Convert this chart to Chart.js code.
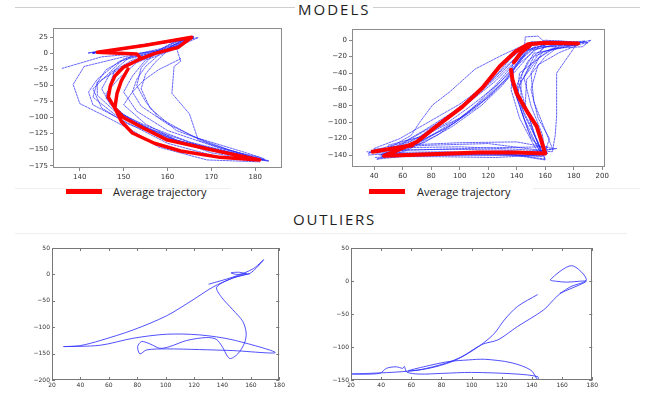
<!DOCTYPE html>
<html>
<head>
<meta charset="utf-8">
<script src="https://cdn.jsdelivr.net/npm/chart.js@4"></script>
<style>
  body { margin: 0; width: 649px; height: 394px; position: relative; overflow: hidden; background: #fff; font-family: "Open Sans", sans-serif; }
  canvas { position: absolute; }
  .rule { position: absolute; height: 1px; background: #cfcfcf; }
  .faint { background: #efefef; }
  .title { position: absolute; font-size: 15px; line-height: 15px; letter-spacing: 2px; color: #1e1e1e; background: #fff; padding: 0 3px; }
  .swatch { position: absolute; width: 36px; height: 5px; background: #ff0000; }
  .legend { position: absolute; font-size: 11px; line-height: 11px; color: #222; }
</style>
</head>
<body>
<div class="rule" style="left:15px; top:7px; width:625px;"></div>
<div class="title" style="left:295px; top:2px;">MODELS</div>
<div class="rule faint" style="left:15px; top:188px; width:215px;"></div>
<div class="rule faint" style="left:533px; top:188px; width:107px;"></div>
<div class="title" style="left:290px; top:212px; letter-spacing:1.8px;">OUTLIERS</div>
<div class="rule faint" style="left:15px; top:233px; width:612px;"></div>

<canvas id="tl"></canvas>
<canvas id="tr"></canvas>
<canvas id="bl"></canvas>
<canvas id="br"></canvas>

<div class="swatch" style="left:66px; top:189px;"></div>
<div class="legend" style="left:113px; top:186px;">Average trajectory</div>
<div class="swatch" style="left:369px; top:189px;"></div>
<div class="legend" style="left:417px; top:186px;">Average trajectory</div>

<script>
// ---- top left model: tick labels, average trajectory, individual runs
const tlXTicks = [140, 150, 160, 170, 180];
const tlYTicks = [25, 0, -25, -50, -75, -100, -125, -150, -175];
const tlAvgX = [154, 153, 144, 155, 165.5, 162.5, 157, 153.8, 150, 148, 147, 146.5, 148, 150, 155, 160, 170, 181, 172, 163, 157, 152, 149.5, 148, 148.5, 149.5, 151];
const tlAvgY = [-8, -0.5, 2, 13, 25.5, 10, 0, -8.4, -21, -35, -50, -68, -85, -100, -118, -135, -150, -166, -162, -152, -140, -124, -106, -85, -62, -42, -24];
const tlRunsX = [
  [143, 164, 160, 150, 141, 138.5, 140, 145, 152, 158, 169, 181],
  [143, 165, 162, 163, 161.5, 161, 165, 167, 178, 183],
  [136, 145, 153, 160, 166, 162, 155, 150, 144, 143, 148, 158, 170, 180],
  [143, 163, 158, 152, 147, 145, 147, 152, 162, 175, 182],
  [144, 165, 161, 155, 152, 150, 153, 160, 172, 181],
  [145, 166, 163, 157, 154, 153, 155, 158, 166, 178, 182],
  [142, 162, 157, 149, 144, 142, 143, 150, 160, 172, 180],
  [144, 167, 164, 160, 157, 155, 154, 156, 162, 174, 183],
  [143, 166, 160, 152, 148, 147, 146, 150, 156, 168, 179],
  [144, 164, 159, 150, 146, 143, 145, 151, 160, 176, 181],
  [163, 158, 154.5, 152, 150, 155, 162, 172, 182],
  [142, 163, 158, 151, 146, 144, 144, 148, 155, 165, 178, 182],
  [145, 165, 161, 158, 155, 153, 152, 154, 160, 170, 180],
  [143, 164, 159, 153, 149, 146, 148, 154, 163, 177, 183]
];
const tlRunsY = [
  [1, 24, 8, -5, -20, -48, -78, -95, -120, -146, -166, -169],
  [1, 26, 10, -12, -20, -62, -94, -135, -160, -167],
  [-23, -5, 0, 6, 25, 12, -5, -20, -45, -68, -95, -125, -155, -166],
  [1, 22, 3, -10, -30, -55, -80, -105, -135, -155, -165],
  [0, 25, 5, -10, -35, -60, -90, -120, -148, -162],
  [2, 27, 14, 0, -22, -50, -75, -100, -130, -155, -164],
  [1, 20, 2, -12, -40, -60, -80, -105, -140, -162, -168],
  [1, 25, 16, 5, -15, -32, -55, -85, -120, -150, -168],
  [0, 24, 10, -2, -25, -45, -70, -95, -118, -145, -163],
  [2, 23, 4, -8, -35, -55, -85, -110, -132, -158, -166],
  [-8, -25, -42, -60, -80, -110, -135, -155, -166],
  [1, 23, 5, -6, -25, -45, -65, -90, -112, -138, -160, -167],
  [0, 26, 12, -2, -20, -40, -60, -82, -110, -142, -163],
  [2, 21, 3, -14, -38, -62, -88, -112, -140, -160, -168]
];

// ---- top right model
const trXTicks = [40, 60, 80, 100, 120, 140, 160, 180, 200];
const trYTicks = [0, -20, -40, -60, -80, -100, -120, -140];
const trAvgX = [183, 160, 148, 139, 128, 116, 102, 83, 70, 58, 47, 80, 113, 140, 160, 157, 154, 148, 140, 137, 136];
const trAvgY = [-4, -3, -5, -14, -32, -58, -81, -106, -124, -133, -141, -139, -137, -137, -138, -121, -105, -89, -65, -48, -36];
const trSpurX = [39, 67];
const trSpurY = [-136, -128];
const trHookX = [138, 143, 149];
const trHookY = [-27, -15, -7];
const trRunsX = [
  [45, 70, 90, 110, 128, 143, 160, 185, 192, 186, 165, 152, 145, 150, 158, 160, 130, 90, 50, 35],
  [38, 60, 75, 95, 115, 135, 150, 175, 188, 180, 160, 148, 140, 145, 155, 158, 120, 80, 45],
  [50, 66, 72, 81, 93, 111, 130, 145, 170, 182, 168, 168, 167, 165, 140, 100, 60, 40],
  [42, 62, 85, 105, 125, 140, 148, 160, 178, 160, 146, 138, 136, 142, 152, 156, 110, 70, 40],
  [36, 55, 80, 100, 120, 138, 152, 165, 183, 170, 155, 150, 155, 163, 160, 120, 80, 50],
  [48, 75, 95, 115, 130, 145, 146, 155, 160, 180, 163, 142, 140, 150, 158, 125, 85, 45],
  [40, 58, 78, 100, 122, 136, 150, 170, 190, 175, 158, 150, 152, 160, 165, 140, 100, 60],
  [44, 66, 90, 112, 132, 145, 152, 171, 160, 147, 146, 153, 160, 130, 90, 50, 38],
  [50, 72, 92, 108, 126, 142, 156, 168, 155, 143, 143, 150, 162, 130, 95, 55],
  [36, 52, 75, 97, 118, 134, 147, 158, 175, 150, 137, 136, 145, 156, 168, 150, 100, 60],
  [42, 60, 82, 105, 125, 141, 150, 165, 180, 170, 152, 144, 140, 148, 157, 162, 125, 85, 45, 36],
  [46, 64, 84, 100, 118, 130, 140, 152, 160, 150, 142, 146, 152, 160, 140, 100, 70, 42]
];
const trRunsY = [
  [-140, -120, -95, -70, -42, -15, -5, -3, 0, -8, -10, -20, -45, -80, -115, -140, -140, -139, -138, -136],
  [-135, -125, -110, -88, -60, -28, -5, -3, -1, -6, -8, -25, -55, -90, -125, -142, -138, -137, -140],
  [-132, -116, -100, -79, -63, -35, -18, -6, -4, -5, -40, -92, -116, -136, -133, -130, -131, -133],
  [-145, -135, -115, -90, -55, -25, -8, 0, -2, -6, -12, -35, -60, -95, -128, -140, -140, -141, -143],
  [-138, -130, -112, -95, -70, -40, -12, -6, -6, -15, -30, -60, -95, -120, -135, -126, -128, -130],
  [-135, -125, -105, -80, -55, -20, 4, 5, -3, -4, -12, -40, -70, -105, -140, -143, -142, -142],
  [-132, -120, -100, -78, -50, -22, -2, -1, -3, -8, -14, -40, -75, -110, -132, -124, -125, -128],
  [-140, -128, -108, -82, -48, -18, -4, -6, -20, -48, -78, -118, -146, -138, -136, -137, -134],
  [-128, -118, -100, -80, -55, -28, -8, -8, -22, -50, -85, -120, -138, -134, -133, -134],
  [-140, -138, -122, -100, -72, -45, -14, -2, -3, -12, -30, -50, -95, -135, -132, -137, -138, -139],
  [-138, -126, -104, -78, -50, -22, -6, -4, -6, -10, -16, -40, -70, -110, -138, -130, -131, -133, -135, -137],
  [-142, -132, -112, -95, -70, -48, -28, -10, -6, -30, -55, -80, -112, -145, -140, -140, -140, -145]
];

// ---- bottom left outlier
const blXTicks = [20, 40, 60, 80, 100, 120, 140, 160, 180];
const blYTicks = [50, 0, -50, -100, -150, -200];
const blPathX = [130.5, 147.3, 161.3, 169, 159, 152, 146, 150, 157, 147, 136, 139, 147.3, 154.3, 156.7, 155.5, 150.8, 145, 139.8, 135.6, 128.6, 114.6, 102.9, 95.9, 88.9, 83.1, 80.3, 81.9, 86.6, 100.6, 124, 147.3, 177.2, 147.3, 124, 100.6, 77.2, 53.9, 28.2, 39.9, 53.9, 77.2, 100.6, 119.3, 133.3, 147.3, 159];
const blPathY = [-18.4, -5.1, 10.1, 27.8, 1.3, 4, 3, 0, 1, -7, -24, -42, -67, -89, -111, -130, -150.6, -159, -136.7, -122.8, -119.6, -125.3, -136.7, -139.9, -131.6, -127.2, -136.7, -150.6, -143, -141.1, -142.4, -144.3, -148.1, -124, -114.6, -113.3, -120.9, -134.2, -136.7, -134.8, -125.3, -105.1, -78.5, -48.1, -24, -7, 1.3];

// ---- bottom right outlier
const brXTicks = [20, 40, 60, 80, 100, 120, 140, 160, 180];
const brYTicks = [50, 0, -50, -100, -150];
const brPathX = [143.5, 130.4, 121.7, 115.2, 107.6, 97.8, 87, 71.7, 54.3, 32.6, 20.7, 39, 43.5, 50, 54.3, 55.4, 57, 65, 80, 100, 130, 143.9, 143.9, 139.1, 126.1, 108.7, 97.8, 85, 72, 58, 65.2, 82.6, 93.5, 107, 117.4, 130.4, 147.8, 156.5, 165.2, 176.1, 166.3, 152.2, 156.5, 163, 176, 174.3, 158.7];
const brPathY = [-20.9, -38.6, -58.9, -79.1, -94.3, -109.5, -122.2, -132.3, -137.3, -139.9, -140.9, -140, -132.3, -130, -132.3, -129.5, -138, -141, -140, -138.5, -141, -145, -150, -134.8, -123.7, -118.6, -119.6, -122, -128, -136, -134.8, -124.7, -114.6, -96, -89.2, -69, -43.7, -23.4, -9.2, 1.9, 23.2, 1.9, -0.5, -1.7, 0, -3, -18.4];

const minus = v => (v < 0 ? '\u2212' + Math.abs(v) : String(v));

function lineSet(xs, ys, color, width, dash, tension) {
  return {
    data: xs.map((x, i) => ({ x: x, y: ys[i] })),
    showLine: true,
    borderColor: color,
    borderWidth: width,
    borderDash: dash,
    borderJoinStyle: 'round',
    borderCapStyle: 'round',
    pointRadius: 0,
    tension: tension,
    fill: false
  };
}

const blueDash = 'rgba(30, 30, 255, 0.68)';
const outlierBlue = 'rgba(50, 50, 255, 0.85)';

// box round the plot, plus inward ticks for the old style plots
const frame = {
  id: 'frame',
  afterDatasetsDraw(chart, args, opts) {
    const a = chart.chartArea, g = chart.ctx;
    g.save();
    g.strokeStyle = opts.color || '#8c8c8c';
    g.lineWidth = 1;
    g.strokeRect(Math.round(a.left) + 0.5, Math.round(a.top) + 0.5, Math.round(a.right - a.left) - 1, Math.round(a.bottom - a.top) - 1);
    if (opts.inward) {
      g.beginPath();
      chart.scales.x.ticks.forEach(t => {
        const px = Math.round(chart.scales.x.getPixelForValue(t.value)) + 0.5;
        g.moveTo(px, a.bottom); g.lineTo(px, a.bottom - 3);
        g.moveTo(px, a.top); g.lineTo(px, a.top + 3);
      });
      chart.scales.y.ticks.forEach(t => {
        const py = Math.round(chart.scales.y.getPixelForValue(t.value)) + 0.5;
        g.moveTo(a.left, py); g.lineTo(a.left + 3, py);
        g.moveTo(a.right, py); g.lineTo(a.right - 3, py);
      });
      g.stroke();
    }
    g.restore();
  }
};

function panel(id, area, xr, yr, xt, yt, sets, opt) {
  const cv = document.getElementById(id);
  cv.width = area.R - area.L + opt.yw + 4;
  cv.height = area.B - area.T + 6 + opt.xh;
  cv.style.left = (area.L - opt.yw) + 'px';
  cv.style.top = (area.T - 6) + 'px';
  const tickFont = { family: 'DejaVu Sans', size: opt.font };
  const axis = (r, t, fitKey, fitVal) => ({
    type: 'linear',
    min: r[0],
    max: r[1],
    afterBuildTicks: s => { s.ticks = t.map(v => ({ value: v })); },
    afterFit: s => { s[fitKey] = fitVal; },
    border: { display: false },
    grid: { drawOnChartArea: false, drawTicks: opt.tick > 0, tickLength: opt.tick, color: '#888' },
    ticks: { font: tickFont, color: '#333', padding: opt.pad, autoSkip: false, maxRotation: 0, callback: minus }
  });
  new Chart(cv, {
    type: 'scatter',
    data: { datasets: sets },
    options: {
      responsive: false,
      animation: false,
      devicePixelRatio: 1,
      layout: { padding: { top: 6, right: 4, left: 0, bottom: 0 } },
      plugins: { legend: { display: false }, tooltip: { enabled: false }, frame: { inward: opt.inward, color: opt.frame } },
      scales: {
        x: axis(xr, xt, 'height', opt.xh),
        y: axis(yr, yt, 'width', opt.yw)
      }
    },
    plugins: [frame]
  });
}

const modelStyle = { yw: 30, xh: 14, font: 7, tick: 3, pad: 2, inward: false, frame: '#8c8c8c' };
const outlierStyle = { yw: 30, xh: 10, font: 6, tick: 0, pad: 2, inward: true, frame: '#777' };

panel('tl', { L: 53, T: 28, R: 282, B: 168 }, [133.9, 186.1], [-178.6, 39.7], tlXTicks, tlYTicks,
  [lineSet(tlAvgX, tlAvgY, '#ff0000', 3.5, [], 0)].concat(
    tlRunsX.map((xs, i) => lineSet(xs, tlRunsY[i], blueDash, 1, [2, 1.2], 0))),
  modelStyle);

panel('tr', { L: 352, T: 29, R: 607, B: 167 }, [24.5, 202], [-154.6, 13.4], trXTicks, trYTicks,
  [lineSet(trAvgX, trAvgY, '#ff0000', 4, [], 0),
   lineSet(trSpurX, trSpurY, '#ff0000', 4, [], 0),
   lineSet(trHookX, trHookY, '#ff0000', 4, [], 0)].concat(
    trRunsX.map((xs, i) => lineSet(xs, trRunsY[i], blueDash, 1, [2, 1.2], 0))),
  modelStyle);

panel('bl', { L: 52, T: 248, R: 283, B: 380 }, [20, 180], [-200, 50], blXTicks, blYTicks,
  [lineSet(blPathX, blPathY, outlierBlue, 1, [], 0.3)], outlierStyle);

panel('br', { L: 351, T: 248, R: 596, B: 380 }, [20, 180], [-150, 50], brXTicks, brYTicks,
  [lineSet(brPathX, brPathY, outlierBlue, 1, [], 0.3)], outlierStyle);
</script>
</body>
</html>
